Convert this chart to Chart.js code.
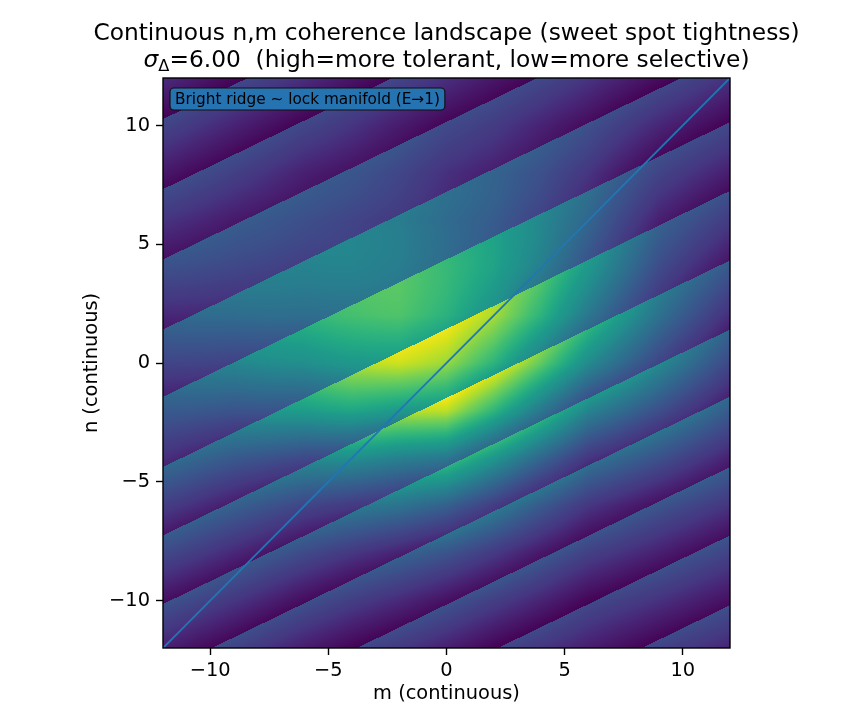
<!DOCTYPE html>
<html>
<head>
<meta charset="utf-8">
<script src="https://cdn.jsdelivr.net/npm/chart.js@4.4.1/dist/chart.umd.min.js"></script>
<style>
  html, body { margin: 0; padding: 0; background: #fff; }
  #wrap { width: 868px; height: 728px; }
</style>
</head>
<body>
<div id="wrap"><canvas id="chart" width="868" height="728"></canvas></div>
<script>
// ---- data ----
const mRange = [-12, 12];
const nRange = [-12, 12];
const mTicks = [-10, -5, 0, 5, 10];
const nTicks = [-10, -5, 0, 5, 10];
const sigmaDelta = 6.00;

// lock manifold n = m
const lockLineM = [-12, 12];

// sharp band edges (wrap lines): n at m = -12 and at m = 12
const edgeLeftN  = [13.2, 10.27, 7.32, 4.36, 1.41, -1.42, -4.38, -7.26, -10.15, -13.0, -15.96, -18.84, -21.78, -24.7];
const edgeRightN = [24.8, 21.85, 18.9, 15.94, 13.0, 10.14, 7.25, 4.32, 1.41, -1.42, -4.38, -7.26, -10.2, -13.1];

// level just under a band edge (top of a band), sampled on a grid
const envM = [-12, -9, -6, -4, -2, 0, 2, 4, 6, 9, 12];
const envN = [12, 10, 8, 6, 4, 2, 0, -2, -4, -6, -8, -10, -12];
const envTop = [
  [0.21, 0.21, 0.21, 0.21, 0.21, 0.21, 0.21, 0.22, 0.22, 0.21, 0.21],
  [0.22, 0.22, 0.22, 0.23, 0.23, 0.23, 0.25, 0.25, 0.25, 0.22, 0.22],
  [0.23, 0.24, 0.25, 0.28, 0.30, 0.30, 0.33, 0.34, 0.32, 0.25, 0.24],
  [0.24, 0.28, 0.34, 0.39, 0.44, 0.46, 0.50, 0.49, 0.44, 0.30, 0.26],
  [0.27, 0.36, 0.47, 0.58, 0.67, 0.71, 0.73, 0.68, 0.57, 0.38, 0.29],
  [0.29, 0.43, 0.60, 0.75, 0.90, 0.95, 0.92, 0.81, 0.65, 0.45, 0.31],
  [0.32, 0.46, 0.65, 0.83, 0.99, 1.05, 0.97, 0.81, 0.63, 0.47, 0.33],
  [0.33, 0.44, 0.61, 0.77, 0.85, 0.97, 0.84, 0.67, 0.50, 0.42, 0.33],
  [0.34, 0.37, 0.45, 0.55, 0.60, 0.68, 0.59, 0.48, 0.37, 0.34, 0.29],
  [0.31, 0.32, 0.34, 0.39, 0.44, 0.46, 0.41, 0.34, 0.28, 0.27, 0.27],
  [0.28, 0.28, 0.28, 0.29, 0.31, 0.32, 0.30, 0.27, 0.24, 0.25, 0.25],
  [0.25, 0.25, 0.24, 0.24, 0.25, 0.25, 0.24, 0.23, 0.21, 0.23, 0.24],
  [0.23, 0.23, 0.21, 0.21, 0.22, 0.22, 0.21, 0.21, 0.21, 0.22, 0.23]
];
// level at the foot of a band (just above the next edge) for a given top level
const footTop   = [0.21, 1.00];
const footValue = [0.00, 0.60];

const viridis = [
  '#440154', '#471365', '#482475', '#453781', '#414487', '#3b528b', '#355f8d',
  '#2f6c8e', '#2a788e', '#25848e', '#21918c', '#1e9b8a', '#22a884', '#2fb47c',
  '#44bf70', '#5ec962', '#7ad151', '#9dd93b', '#bddf26', '#dfe318', '#fde725'
];

const titleLine1 = 'Continuous n,m coherence landscape (sweet spot tightness)';
const titleLine2 = '  (high=more tolerant, low=more selective)';
const noteText = 'Bright ridge ~ lock manifold (E\u21921)';

const FONT = '"DejaVu Sans", "Liberation Sans", sans-serif';
const C0 = '#1f77b4';

const viridisRGB = viridis.map(h => [1, 3, 5].map(i => parseInt(h.slice(i, i + 2), 16)));

function colorFor(v) {
  v = Math.max(0, Math.min(1, v));
  const p = v * (viridisRGB.length - 1);
  const i = Math.min(viridisRGB.length - 2, Math.floor(p));
  const t = p - i;
  const a = viridisRGB[i], b = viridisRGB[i + 1];
  return [a[0] + (b[0] - a[0]) * t, a[1] + (b[1] - a[1]) * t, a[2] + (b[2] - a[2]) * t];
}

function findSpan(arr, v, descending) {
  for (let i = 0; i < arr.length - 1; i++) {
    const lo = descending ? arr[i + 1] : arr[i];
    const hi = descending ? arr[i] : arr[i + 1];
    if (v >= lo && v <= hi) return i;
  }
  return v < (descending ? arr[arr.length - 1] : arr[0]) === descending ? arr.length - 2 : 0;
}

function topLevel(m, n) {
  const i = findSpan(envM, m, false);
  const j = findSpan(envN, n, true);
  const tx = Math.max(0, Math.min(1, (m - envM[i]) / (envM[i + 1] - envM[i])));
  const ty = Math.max(0, Math.min(1, (n - envN[j]) / (envN[j + 1] - envN[j])));
  const a = envTop[j][i], b = envTop[j][i + 1];
  const c = envTop[j + 1][i], d = envTop[j + 1][i + 1];
  return (a + (b - a) * tx) * (1 - ty) + (c + (d - c) * tx) * ty;
}

const landscape = {
  id: 'landscape',
  beforeDatasetsDraw(chart) {
    const {ctx, chartArea: area, scales: {x, y}} = chart;
    const dpr = chart.currentDevicePixelRatio || 1;
    const w = Math.round(area.width * dpr), h = Math.round(area.height * dpr);
    const off = document.createElement('canvas');
    off.width = w;
    off.height = h;
    const octx = off.getContext('2d');
    const img = octx.createImageData(w, h);
    const footSlope = (footValue[1] - footValue[0]) / (footTop[1] - footTop[0]);
    for (let i = 0; i < w; i++) {
      const m = x.getValueForPixel(area.left + (i + 0.5) / dpr);
      const f = (m - mRange[0]) / (mRange[1] - mRange[0]);
      const edges = edgeLeftN.map((l, k) => l + (edgeRightN[k] - l) * f);
      for (let j = 0; j < h; j++) {
        const n = y.getValueForPixel(area.top + (j + 0.5) / dpr);
        let k = 0;
        while (k < edges.length - 2 && edges[k + 1] >= n) k++;
        const u = (edges[k] - n) / (edges[k] - edges[k + 1]);
        const top = topLevel(m, n);
        const foot = footValue[0] + (top - footTop[0]) * footSlope;
        const c = colorFor(top + (foot - top) * u);
        const p = (j * w + i) * 4;
        img.data[p] = c[0];
        img.data[p + 1] = c[1];
        img.data[p + 2] = c[2];
        img.data[p + 3] = 255;
      }
    }
    octx.putImageData(img, 0, 0);
    ctx.save();
    ctx.drawImage(off, area.left, area.top, area.width, area.height);
    ctx.restore();
  },
  afterDatasetsDraw(chart) {
    const {ctx, chartArea: area} = chart;
    ctx.save();
    // note box
    ctx.font = '15.3px ' + FONT;
    const tw = ctx.measureText(noteText).width;
    const bx = area.left + 7, by = area.top + 10, bw = tw + 10, bh = 22;
    ctx.beginPath();
    ctx.roundRect(bx, by, bw, bh, 4);
    ctx.fillStyle = 'rgb(38,115,178)';
    ctx.fill();
    ctx.lineWidth = 1.2;
    ctx.strokeStyle = '#111';
    ctx.stroke();
    ctx.fillStyle = '#000';
    ctx.textBaseline = 'middle';
    ctx.textAlign = 'left';
    ctx.fillText(noteText, bx + 5, by + bh / 2 + 1);
    // frame
    ctx.strokeStyle = '#000';
    ctx.lineWidth = 1.4;
    ctx.strokeRect(area.left, area.top, area.width, area.height);
    ctx.restore();
  },
  afterDraw(chart) {
    const {ctx, chartArea: area} = chart;
    const cx = (area.left + area.right) / 2;
    ctx.save();
    ctx.fillStyle = '#000';
    ctx.textBaseline = 'alphabetic';
    ctx.textAlign = 'left';
    ctx.font = '23.3px ' + FONT;
    const w1 = ctx.measureText(titleLine1).width;
    ctx.fillText(titleLine1, cx - w1 / 2, 40);
    const rest = '=' + sigmaDelta.toFixed(2) + titleLine2;
    ctx.font = 'italic 23.3px ' + FONT;
    const ws = ctx.measureText('\u03c3').width;
    ctx.font = '16.3px ' + FONT;
    const wd = ctx.measureText('\u0394').width;
    ctx.font = '23.3px ' + FONT;
    const wr = ctx.measureText(rest).width;
    let x0 = cx - (ws + wd + wr) / 2;
    ctx.font = 'italic 23.3px ' + FONT;
    ctx.fillText('\u03c3', x0, 67);
    ctx.font = '16.3px ' + FONT;
    ctx.fillText('\u0394', x0 + ws, 71);
    ctx.font = '23.3px ' + FONT;
    ctx.fillText(rest, x0 + ws + wd, 67);
    ctx.restore();
  }
};

const fmt = v => (v < 0 ? '\u2212' + (-v) : String(v));

const axisCommon = {
  type: 'linear',
  ticks: {
    font: {family: FONT, size: 19.4},
    color: '#000',
    autoSkip: false,
    maxRotation: 0,
    callback: fmt
  },
  grid: {
    drawOnChartArea: false,
    drawTicks: true,
    tickLength: 7,
    tickWidth: 1.4,
    tickColor: '#000'
  },
  border: {display: false}
};

new Chart(document.getElementById('chart'), {
  type: 'scatter',
  data: {
    datasets: [{
      label: 'n = m',
      data: lockLineM.map(m => ({x: m, y: m})),
      showLine: true,
      borderColor: C0,
      borderWidth: 1.9,
      pointRadius: 0,
      fill: false
    }]
  },
  options: {
    responsive: false,
    animation: false,
    layout: {padding: {top: 78, right: 138, bottom: 0, left: 0}},
    plugins: {legend: {display: false}, tooltip: {enabled: false}},
    scales: {
      x: {
        ...axisCommon,
        position: 'bottom',
        min: mRange[0],
        max: mRange[1],
        ticks: {...axisCommon.ticks, padding: 4},
        afterBuildTicks: s => { s.ticks = mTicks.map(v => ({value: v})); },
        afterFit: s => { s.height = 80; },
        title: {display: true, text: 'm (continuous)', color: '#000',
                font: {family: FONT, size: 19.4}, padding: {top: 0, bottom: 22}}
      },
      y: {
        ...axisCommon,
        position: 'left',
        min: nRange[0],
        max: nRange[1],
        ticks: {...axisCommon.ticks, padding: 6},
        afterBuildTicks: s => { s.ticks = nTicks.map(v => ({value: v})); },
        afterFit: s => { s.width = 163; },
        title: {display: true, text: 'n (continuous)', color: '#000',
                font: {family: FONT, size: 19.4}, padding: {top: 80, bottom: 0}}
      }
    }
  },
  plugins: [landscape]
});
</script>
</body>
</html>
